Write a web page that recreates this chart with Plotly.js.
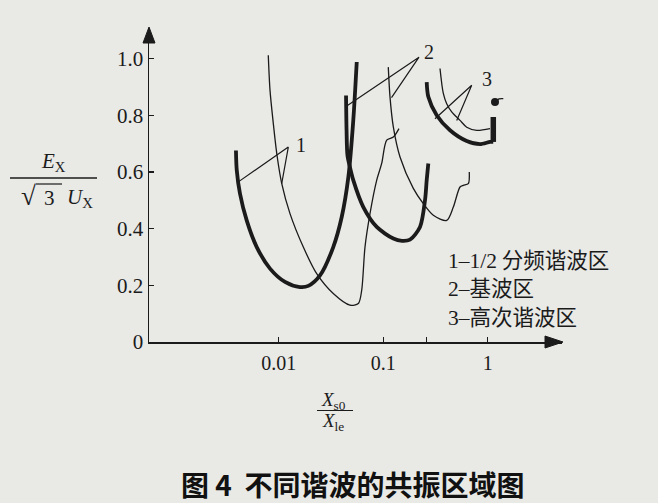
<!DOCTYPE html>
<html>
<head>
<meta charset="utf-8">
<script src="https://cdn.plot.ly/plotly-3.0.1.min.js"></script>
<style>
  html, body { margin: 0; padding: 0; background: #e9e9e6; }
  #chart { width: 658px; height: 503px; }
</style>
</head>
<body>
<div id="chart"></div>
<script>
// ---- data (x = X_s0/X_le, log scale; y = E_X/(sqrt3 U_X)) ----
// curve 1 (thick) : 1/2 sub-harmonic region
const c1Thick_x = [0.00389, 0.00396, 0.00425, 0.00493, 0.00615, 0.00824, 0.01146, 0.01595, 0.01915, 0.0248, 0.0332, 0.0400, 0.0463, 0.0516, 0.0557];
const c1Thick_y = [0.676, 0.606, 0.524, 0.429, 0.335, 0.259, 0.212, 0.194, 0.198, 0.235, 0.335, 0.441, 0.582, 0.782, 0.988];
// curve 2 (thick) : fundamental region
const c2Thick_x = [0.0440, 0.0445, 0.0454, 0.0480, 0.0516, 0.0644, 0.0865, 0.1247, 0.151, 0.180, 0.2245, 0.2506, 0.2602, 0.2696];
const c2Thick_y = [0.870, 0.747, 0.659, 0.616, 0.571, 0.476, 0.406, 0.365, 0.357, 0.361, 0.406, 0.500, 0.571, 0.630];
// curve 2 (thin, left)
const c2ThinA_x = [0.00793, 0.00824, 0.00886, 0.00961, 0.01066, 0.0128, 0.01716, 0.02305, 0.0332, 0.0480, 0.0577, 0.0621, 0.0668, 0.0746, 0.0865, 0.0965, 0.1078, 0.1247, 0.1413];
const c2ThinA_y = [1.012, 0.888, 0.771, 0.659, 0.560, 0.453, 0.335, 0.241, 0.171, 0.130, 0.136, 0.182, 0.335, 0.453, 0.571, 0.630, 0.712, 0.723, 0.753];
// curve 2 (thin, right)
const c2ThinB_x = [0.1116, 0.1159, 0.1247, 0.1445, 0.1937, 0.2414, 0.301, 0.4043, 0.4677, 0.542, 0.583, 0.651, 0.665];
const c2ThinB_y = [0.970, 0.865, 0.759, 0.653, 0.542, 0.488, 0.447, 0.429, 0.476, 0.547, 0.553, 0.559, 0.600];
// curve 3 (thick) : higher harmonic region
const c3Thick_x = [0.2602, 0.2696, 0.3243, 0.4348, 0.6283, 0.8423, 1.0498, 1.1288];
const c3Thick_y = [0.917, 0.865, 0.800, 0.747, 0.709, 0.698, 0.706, 0.706];
const c3Bar_x = [1.1288, 1.1288];
const c3Bar_y = [0.706, 0.794];
const c3Dot_x = [1.172];
const c3Dot_y = [0.847];
const c3Hook_x = [1.172, 1.28, 1.407];
const c3Hook_y = [0.847, 0.858, 0.859];
// curve 3 (thin)
const c3Thin_x = [0.3488, 0.3752, 0.4043, 0.4512, 0.542, 0.6283, 0.783, 1.0498];
const c3Thin_y = [0.965, 0.877, 0.841, 0.812, 0.782, 0.758, 0.747, 0.753];

// leader lines for the curve numbers (apex in the middle)
const lead1_x = [0.00410, 0.01233, 0.01066];
const lead1_y = [0.565, 0.688, 0.559];
const lead2_x = [0.04465, 0.2196, 0.1198];
const lead2_y = [0.833, 1.005, 0.862];
const lead3_x = [0.3124, 0.7013, 0.504];
const lead3_y = [0.788, 0.906, 0.782];
const labelText = ['1', '2', '3'];
const label_x = [0.0163, 0.272, 0.985];
const label_y = [0.694, 1.022, 0.927];

// axes ticks
const xTickVals = [0.01, 0.1, 0.26, 1];
const xTickText = ['0.01', '0.1', '', '1'];
const yTickVals = [0, 0.2, 0.4, 0.6, 0.8, 1.0];
const yTickText = ['0', '0.2', '0.4', '0.6', '0.8', '1.0'];

// legend lines and caption
const legendNums = ['1–1/2', '2–', '3–'];
const legendNames = [' 分频谐波区', '基波区', '高次谐波区'];
const caption = '图 4  不同谐波的共振区域图';

// ---- drawing ----
const INK = '#1b1b1b';
const SERIF = 'Liberation Serif, Times New Roman, serif';
const CJK = 'Noto Sans CJK SC, sans-serif';

function line(x, y, w, shape) {
  return { x: x, y: y, type: 'scatter', mode: 'lines', hoverinfo: 'skip',
    line: { color: INK, width: w, shape: shape || 'spline', smoothing: 0.8 } };
}

const traces = [
  line(c2ThinA_x, c2ThinA_y, 1.3),
  line(c2ThinB_x, c2ThinB_y, 1.3),
  line(c3Thin_x, c3Thin_y, 1.3),
  line(c1Thick_x, c1Thick_y, 3.8),
  line(c2Thick_x, c2Thick_y, 3.8),
  line(c3Thick_x, c3Thick_y, 3.8),
  line(c3Bar_x, c3Bar_y, 5.5, 'linear'),
  line(c3Hook_x, c3Hook_y, 1.2),
  { x: c3Dot_x, y: c3Dot_y, type: 'scatter', mode: 'markers', hoverinfo: 'skip',
    marker: { color: INK, size: 8, symbol: 'circle' } },
  line(lead1_x, lead1_y, 1.2, 'linear'),
  line(lead2_x, lead2_y, 1.2, 'linear'),
  line(lead3_x, lead3_y, 1.2, 'linear')
];

// plot area in pixels: left 149, right 562, top 28, bottom 342
const PW = 413, PH = 314;
function px(x) { return (x - 149) / PW; }
function py(y) { return (342 - y) / PH; }
function note(x, y, text, font, xa) {
  return { x: px(x), y: py(y), xref: 'paper', yref: 'paper', showarrow: false,
    xanchor: xa || 'center', yanchor: 'middle', text: text, font: font };
}

const annotations = [];
for (let i = 0; i < labelText.length; i++) {
  annotations.push({ x: Math.log10(label_x[i]), y: label_y[i], xref: 'x', yref: 'y',
    xanchor: 'center', yanchor: 'middle',
    text: labelText[i], showarrow: false, font: { family: SERIF, size: 20, color: INK } });
}
const legendY = [258, 286.5, 315];
for (let i = 0; i < legendNums.length; i++) {
  annotations.push(note(446, legendY[i],
    '<span style="font-family:Liberation Serif">' + legendNums[i] + '</span>' + legendNames[i],
    { family: CJK, size: 21.5, color: INK }, 'left'));
}
// y-axis title (fraction)
annotations.push(note(53, 162, '<i>E</i><sub>X</sub>', { family: SERIF, size: 21, color: INK }));
annotations.push(note(28, 196, '√', { family: SERIF, size: 27, color: INK }));
annotations.push(note(49, 198, '3', { family: SERIF, size: 21, color: INK }));
annotations.push(note(80, 198, '<i>U</i><sub>X</sub>', { family: SERIF, size: 21, color: INK }));
// x-axis title (fraction)
annotations.push(note(333, 401, '<i>X</i><sub>s0</sub>', { family: SERIF, size: 19, color: INK }));
annotations.push(note(333, 422, '<i>X</i><sub>le</sub>', { family: SERIF, size: 19, color: INK }));
// caption
annotations.push(note(353, 484, '<b>' + caption + '</b>', { family: CJK, size: 28, color: '#111' }));

const shapes = [
  // y-axis fraction bar and radical overline
  { type: 'line', xref: 'paper', yref: 'paper', x0: px(10), x1: px(97), y0: py(178), y1: py(178),
    line: { color: INK, width: 1.4 } },
  { type: 'line', xref: 'paper', yref: 'paper', x0: px(36), x1: px(62), y0: py(184), y1: py(184),
    line: { color: INK, width: 1.2 } },
  // x-axis fraction bar
  { type: 'line', xref: 'paper', yref: 'paper', x0: px(317), x1: px(353), y0: py(410.5), y1: py(410.5),
    line: { color: INK, width: 1.2 } },
  // arrow heads
  { type: 'path', xref: 'paper', yref: 'paper',
    path: 'M ' + px(143) + ',' + py(43) + ' L ' + px(149) + ',' + py(27) + ' L ' + px(155) + ',' + py(43) + ' Z',
    fillcolor: INK, line: { color: INK, width: 1 } },
  { type: 'path', xref: 'paper', yref: 'paper',
    path: 'M ' + px(545) + ',' + py(336) + ' L ' + px(563) + ',' + py(342) + ' L ' + px(545) + ',' + py(348) + ' Z',
    fillcolor: INK, line: { color: INK, width: 1 } }
];

const layout = {
  width: 658, height: 503,
  margin: { l: 149, r: 96, t: 28, b: 161, pad: 0 },
  paper_bgcolor: '#e9e9e6', plot_bgcolor: 'rgba(0,0,0,0)',
  showlegend: false,
  xaxis: {
    type: 'log', range: [-3.2421, 0.7100],
    showgrid: false, zeroline: false, showline: true, linecolor: INK, linewidth: 1.5,
    ticks: 'inside', ticklen: 5, tickwidth: 1.2, tickcolor: INK,
    tickvals: xTickVals, ticktext: xTickText, ticklabelstandoff: 2,
    tickfont: { family: SERIF, size: 20, color: INK }
  },
  yaxis: {
    range: [0, 1.108],
    showgrid: false, zeroline: false, showline: true, linecolor: INK, linewidth: 1.5,
    ticks: 'inside', ticklen: 5, tickwidth: 1.2, tickcolor: INK,
    tickvals: yTickVals, ticktext: yTickText,
    tickfont: { family: SERIF, size: 21, color: INK }
  },
  annotations: annotations,
  shapes: shapes
};

Plotly.newPlot('chart', traces, layout, { staticPlot: true, displayModeBar: false });
</script>
</body>
</html>
